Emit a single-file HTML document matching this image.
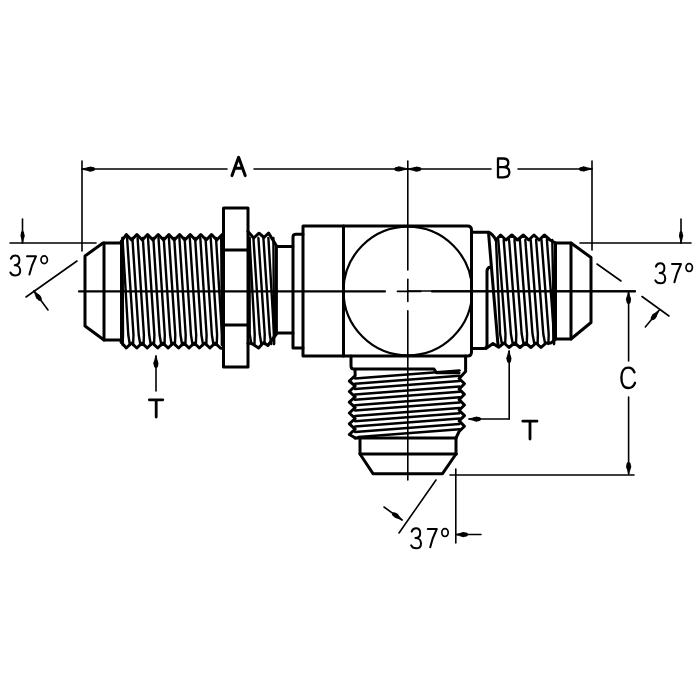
<!DOCTYPE html>
<html><head><meta charset="utf-8"><style>
html,body{margin:0;padding:0;background:#fff;}
svg{display:block;}
text{font-family:"Liberation Sans",sans-serif;fill:#000;}
</style></head><body>
<svg width="700" height="700" viewBox="0 0 700 700">
<g stroke="#000" fill="none" stroke-linecap="round" stroke-linejoin="round">
<line x1="82.0" y1="169.0" x2="227.0" y2="169.0" stroke-width="1.6"/>
<line x1="254.0" y1="169.0" x2="407.5" y2="169.0" stroke-width="1.6"/>
<ellipse cx="0" cy="0" rx="4" ry="2.30" transform="translate(91.0,169.0) rotate(180.0)" fill="#000" stroke="none"/>
<polygon points="82.0,169.0 91.0,167.0 91.0,171.0" fill="#000" stroke="#000" stroke-width="0.8"/>
<ellipse cx="0" cy="0" rx="4" ry="2.30" transform="translate(398.3,169.0) rotate(0.0)" fill="#000" stroke="none"/>
<polygon points="407.8,169.0 398.3,171.0 398.3,167.0" fill="#000" stroke="#000" stroke-width="0.8"/>
<line x1="407.5" y1="169.0" x2="491.0" y2="169.0" stroke-width="1.6"/>
<line x1="518.0" y1="169.0" x2="592.0" y2="169.0" stroke-width="1.6"/>
<ellipse cx="0" cy="0" rx="4" ry="2.30" transform="translate(417.3,169.0) rotate(180.0)" fill="#000" stroke="none"/>
<polygon points="407.8,169.0 417.3,167.0 417.3,171.0" fill="#000" stroke="#000" stroke-width="0.8"/>
<ellipse cx="0" cy="0" rx="4" ry="2.30" transform="translate(583.0,169.0) rotate(0.0)" fill="#000" stroke="none"/>
<polygon points="592.0,169.0 583.0,171.0 583.0,167.0" fill="#000" stroke="#000" stroke-width="0.8"/>
<line x1="82.0" y1="161.0" x2="82.0" y2="251.0" stroke-width="1.6"/>
<line x1="592.0" y1="161.0" x2="592.0" y2="250.0" stroke-width="1.6"/>
<line x1="10.0" y1="243.0" x2="96.0" y2="243.0" stroke-width="1.6"/>
<line x1="22.5" y1="219.0" x2="22.5" y2="243.0" stroke-width="1.6"/>
<ellipse cx="0" cy="0" rx="4" ry="1.80" transform="translate(22.5,235.0) rotate(90.0)" fill="#000" stroke="none"/>
<polygon points="22.5,243.0 21.0,235.0 24.0,235.0" fill="#000" stroke="#000" stroke-width="0.8"/>
<line x1="77.0" y1="261.0" x2="26.0" y2="297.0" stroke-width="1.6"/>
<line x1="34.0" y1="291.0" x2="48.0" y2="310.0" stroke-width="1.6"/>
<ellipse cx="0" cy="0" rx="4" ry="2.20" transform="translate(38.7,297.4) rotate(-126.4)" fill="#000" stroke="none"/>
<polygon points="34.0,291.0 40.3,296.3 37.2,298.5" fill="#000" stroke="#000" stroke-width="0.8"/>
<line x1="580.0" y1="243.0" x2="691.0" y2="243.0" stroke-width="1.6"/>
<line x1="681.0" y1="219.0" x2="681.0" y2="243.0" stroke-width="1.6"/>
<ellipse cx="0" cy="0" rx="4" ry="1.80" transform="translate(681.0,235.0) rotate(90.0)" fill="#000" stroke="none"/>
<polygon points="681.0,243.0 679.5,235.0 682.5,235.0" fill="#000" stroke="#000" stroke-width="0.8"/>
<line x1="597.0" y1="264.0" x2="621.0" y2="281.0" stroke-width="1.6"/>
<line x1="642.0" y1="296.5" x2="669.0" y2="316.0" stroke-width="1.6"/>
<line x1="645.3" y1="327.0" x2="659.0" y2="310.5" stroke-width="1.6"/>
<ellipse cx="0" cy="0" rx="4" ry="2.30" transform="translate(653.9,316.7) rotate(-50.3)" fill="#000" stroke="none"/>
<polygon points="659.0,310.5 655.4,317.9 652.4,315.4" fill="#000" stroke="#000" stroke-width="0.8"/>
<line x1="156.0" y1="356.0" x2="156.0" y2="391.0" stroke-width="1.6"/>
<ellipse cx="0" cy="0" rx="4" ry="2.30" transform="translate(156.0,364.0) rotate(-90.0)" fill="#000" stroke="none"/>
<polygon points="156.0,356.0 158.0,364.0 154.0,364.0" fill="#000" stroke="#000" stroke-width="0.8"/>
<line x1="509.2" y1="351.0" x2="509.2" y2="419.0" stroke-width="1.6"/>
<line x1="509.2" y1="419.0" x2="469.0" y2="419.0" stroke-width="1.6"/>
<ellipse cx="0" cy="0" rx="4" ry="2.30" transform="translate(509.0,359.0) rotate(-90.0)" fill="#000" stroke="none"/>
<polygon points="509.0,351.0 511.0,359.0 507.0,359.0" fill="#000" stroke="#000" stroke-width="0.8"/>
<ellipse cx="0" cy="0" rx="4" ry="2.30" transform="translate(477.0,419.0) rotate(180.0)" fill="#000" stroke="none"/>
<polygon points="469.0,419.0 477.0,417.0 477.0,421.0" fill="#000" stroke="#000" stroke-width="0.8"/>
<line x1="408.0" y1="291.0" x2="635.0" y2="291.0" stroke-width="1.6"/>
<line x1="628.6" y1="292.0" x2="628.6" y2="361.0" stroke-width="1.6"/>
<line x1="628.6" y1="397.0" x2="628.6" y2="474.0" stroke-width="1.6"/>
<ellipse cx="0" cy="0" rx="4" ry="2.30" transform="translate(628.6,300.0) rotate(-90.0)" fill="#000" stroke="none"/>
<polygon points="628.6,292.0 630.6,300.0 626.6,300.0" fill="#000" stroke="#000" stroke-width="0.8"/>
<ellipse cx="0" cy="0" rx="4" ry="2.30" transform="translate(628.6,466.0) rotate(90.0)" fill="#000" stroke="none"/>
<polygon points="628.6,474.0 626.6,466.0 630.6,466.0" fill="#000" stroke="#000" stroke-width="0.8"/>
<line x1="450.0" y1="475.0" x2="634.0" y2="475.0" stroke-width="1.6"/>
<line x1="436.0" y1="480.0" x2="399.0" y2="533.0" stroke-width="1.6"/>
<line x1="384.0" y1="507.0" x2="402.0" y2="520.0" stroke-width="1.6"/>
<ellipse cx="0" cy="0" rx="4" ry="2.20" transform="translate(395.5,515.3) rotate(35.8)" fill="#000" stroke="none"/>
<polygon points="402.0,520.0 394.4,516.8 396.6,513.8" fill="#000" stroke="#000" stroke-width="0.8"/>
<line x1="455.8" y1="469.0" x2="455.8" y2="543.0" stroke-width="1.6"/>
<line x1="481.0" y1="534.5" x2="456.0" y2="534.5" stroke-width="1.6"/>
<ellipse cx="0" cy="0" rx="4" ry="2.30" transform="translate(464.0,534.5) rotate(180.0)" fill="#000" stroke="none"/>
<polygon points="456.0,534.5 464.0,532.5 464.0,536.5" fill="#000" stroke="#000" stroke-width="0.8"/>
<line x1="79.0" y1="291.4" x2="385.0" y2="291.4" stroke-width="2.2"/>
<line x1="397.4" y1="291.4" x2="420.7" y2="291.4" stroke-width="1.6"/>
<line x1="432.0" y1="291.4" x2="635.0" y2="291.4" stroke-width="2.2"/>
<line x1="407.8" y1="161.0" x2="407.8" y2="270.0" stroke-width="1.6"/>
<line x1="407.8" y1="279.3" x2="407.8" y2="301.4" stroke-width="1.6"/>
<line x1="407.8" y1="310.7" x2="407.8" y2="480.0" stroke-width="1.6"/>
<polyline points="122.0,243.0 103.0,243.0 85.0,256.0 85.0,326.0 104.0,340.0 122.0,340.0" stroke-width="3.0"/>
<line x1="104.0" y1="243.0" x2="104.0" y2="340.0" stroke-width="3.0"/>
<polyline points="121.0,242.0 126.3,234.5 131.6,240.0 136.9,234.5 142.3,240.0 147.6,234.5 152.9,240.0 158.2,234.5 163.6,240.0 168.9,234.5 174.2,240.0 179.6,234.5 184.9,240.0 190.2,234.5 195.5,240.0 200.8,234.5 206.2,240.0 211.5,234.5 216.8,240.0 222.2,234.5 223.0,234.0" stroke-width="3.0"/>
<polyline points="121.0,342.0 126.3,348.0 131.5,343.0 136.8,348.0 142.0,343.0 147.2,348.0 152.4,343.0 157.7,348.0 162.9,343.0 168.1,348.0 173.3,343.0 178.6,348.0 183.8,343.0 189.0,348.0 194.2,343.0 199.4,348.0 204.7,343.0 209.9,348.0 215.1,343.0 220.3,348.0 223.0,348.6" stroke-width="3.0"/>
<line x1="121.5" y1="241.0" x2="121.5" y2="342.0" stroke-width="3.0"/>
<polyline points="122.5,238.0 123.0,335.0 122.7,345.0" stroke-width="2.4"/>
<polyline points="122.5,238.0 128.3,335.0 129.9,345.0" stroke-width="2.4"/>
<polyline points="127.1,238.0 133.5,335.0 133.1,345.0" stroke-width="2.4"/>
<polyline points="132.4,238.0 138.7,335.0 140.4,345.0" stroke-width="2.4"/>
<polyline points="137.6,238.0 143.9,335.0 143.6,345.0" stroke-width="2.4"/>
<polyline points="142.8,238.0 149.2,335.0 150.8,345.0" stroke-width="2.4"/>
<polyline points="148.0,238.0 154.4,335.0 154.0,345.0" stroke-width="2.4"/>
<polyline points="153.3,238.0 159.6,335.0 161.3,345.0" stroke-width="2.4"/>
<polyline points="158.5,238.0 164.8,335.0 164.5,345.0" stroke-width="2.4"/>
<polyline points="163.7,238.0 170.1,335.0 171.7,345.0" stroke-width="2.4"/>
<polyline points="168.9,238.0 175.3,335.0 174.9,345.0" stroke-width="2.4"/>
<polyline points="174.2,238.0 180.5,335.0 182.2,345.0" stroke-width="2.4"/>
<polyline points="179.4,238.0 185.7,335.0 185.4,345.0" stroke-width="2.4"/>
<polyline points="184.6,238.0 191.0,335.0 192.6,345.0" stroke-width="2.4"/>
<polyline points="189.8,238.0 196.2,335.0 195.8,345.0" stroke-width="2.4"/>
<polyline points="195.1,238.0 201.4,335.0 203.1,345.0" stroke-width="2.4"/>
<polyline points="200.3,238.0 206.6,335.0 206.3,345.0" stroke-width="2.4"/>
<polyline points="205.5,238.0 211.9,335.0 213.5,345.0" stroke-width="2.4"/>
<polyline points="210.7,238.0 217.1,335.0 216.7,345.0" stroke-width="2.4"/>
<polyline points="216.0,238.0 222.0,335.0 222.0,345.0" stroke-width="2.4"/>
<polyline points="221.2,238.0 222.0,335.0 222.0,345.0" stroke-width="2.4"/>
<rect x="223.5" y="208" width="24.5" height="159" stroke-width="3" fill="none"/>
<line x1="223.5" y1="250.0" x2="248.0" y2="250.0" stroke-width="3.0"/>
<line x1="223.5" y1="325.0" x2="248.0" y2="325.0" stroke-width="3.0"/>
<polyline points="248.0,231.5 253.7,238.0 259.0,233.2 264.0,237.5 268.6,233.0 276.4,245.7" stroke-width="3.0"/>
<polyline points="248.0,343.5 251.0,343.0 258.6,348.0 263.6,342.5 267.9,345.5 276.4,334.0" stroke-width="3.0"/>
<polyline points="249.5,238.0 249.7,334.0 251.3,344.0" stroke-width="2.4"/>
<polyline points="249.5,238.0 254.7,334.0 254.5,344.0" stroke-width="2.4"/>
<polyline points="253.4,238.0 259.7,334.0 261.3,344.0" stroke-width="2.4"/>
<polyline points="258.4,238.0 264.7,334.0 264.5,344.0" stroke-width="2.4"/>
<polyline points="263.4,238.0 269.7,334.0 271.3,344.0" stroke-width="2.4"/>
<polyline points="268.4,238.0 274.0,334.0 274.0,344.0" stroke-width="2.4"/>
<polyline points="273.4,238.0 274.0,334.0 274.0,344.0" stroke-width="2.4"/>
<polyline points="276.4,246.4 293.0,246.4 293.0,333.0 276.4,333.0" stroke-width="3.0"/>
<line x1="276.4" y1="246.0" x2="276.4" y2="333.0" stroke-width="3.0"/>
<path d="M293,246 V237 Q293,234.3 296,234.3 H303 M293,333 V348 H303" stroke-width="3" fill="none"/>
<path d="M303,356 V226 H467.5 Q471.5,226 471.5,230 V352 Q471.5,356 467.5,356 Z" stroke-width="3" fill="none"/>
<line x1="343.5" y1="226.0" x2="343.5" y2="356.0" stroke-width="3.0"/>
<circle cx="407.8" cy="291" r="64.3" stroke-width="2.2" fill="none"/>
<path d="M472,232.3 H488 Q492,233 496,240 M472,348.4 H484 Q487,348.4 487,345 V271 Q487.3,267.5 490.5,267" stroke-width="3" fill="none"/>
<polyline points="496.0,240.0 500.6,235.0 506.0,240.0 511.8,235.0 517.5,240.0 523.4,235.0 528.7,240.0 534.0,235.0 539.2,240.0 544.3,235.0 550.0,240.0 555.5,243.0" stroke-width="3.0"/>
<polyline points="486.0,348.4 493.0,343.5 498.7,347.2 504.0,343.0 509.0,347.5 514.5,343.0 520.0,347.5 525.5,343.0 531.0,347.5 536.0,343.0 541.0,347.5 546.0,343.0 551.0,343.0 555.5,339.0" stroke-width="3.0"/>
<line x1="488.5" y1="232.3" x2="498.0" y2="345.0" stroke-width="3.0"/>
<polyline points="496.0,240.0 500.1,334.0 502.0,344.0" stroke-width="2.4"/>
<polyline points="498.3,240.0 505.5,334.0 505.2,344.0" stroke-width="2.4"/>
<polyline points="503.7,240.0 510.9,334.0 512.8,344.0" stroke-width="2.4"/>
<polyline points="509.1,240.0 516.3,334.0 516.0,344.0" stroke-width="2.4"/>
<polyline points="514.5,240.0 521.7,334.0 523.6,344.0" stroke-width="2.4"/>
<polyline points="519.9,240.0 527.1,334.0 526.8,344.0" stroke-width="2.4"/>
<polyline points="525.3,240.0 532.5,334.0 534.4,344.0" stroke-width="2.4"/>
<polyline points="530.7,240.0 537.9,334.0 537.6,344.0" stroke-width="2.4"/>
<polyline points="536.1,240.0 543.3,334.0 545.2,344.0" stroke-width="2.4"/>
<polyline points="541.5,240.0 548.7,334.0 548.4,344.0" stroke-width="2.4"/>
<polyline points="546.9,240.0 554.0,334.0 554.0,344.0" stroke-width="2.4"/>
<polyline points="552.3,240.0 554.0,334.0 554.0,344.0" stroke-width="2.4"/>
<line x1="553.0" y1="290.0" x2="554.0" y2="340.0" stroke-width="3.5"/>
<line x1="555.5" y1="243.0" x2="555.5" y2="339.0" stroke-width="3.0"/>
<polyline points="555.5,243.0 571.0,243.0 591.0,257.5 591.0,322.5 571.0,339.0 555.5,339.0" stroke-width="3.0"/>
<line x1="571.0" y1="243.0" x2="571.0" y2="339.0" stroke-width="3.0"/>
<path d="M351,356 V366 Q351,369 354,369 H434 L436.5,372.8 H459" stroke-width="3" fill="none"/>
<polyline points="355.0,370.5 355.2,375.7 349.3,381.0 355.2,386.2 349.3,391.5 355.2,396.9 349.3,402.2 355.2,407.7 349.3,413.0 355.2,418.5 349.3,423.8 355.2,429.2 349.3,434.5 355.5,438.0" stroke-width="3.0"/>
<polyline points="465.6,356.0 465.6,371.5 459.1,378.5 464.5,383.8 459.1,389.1 464.5,394.3 459.1,399.6 464.5,405.0 459.1,410.3 464.5,415.6 459.1,420.9 464.5,426.2 459.1,431.5 456.0,438.0" stroke-width="3.0"/>
<line x1="355.0" y1="378.4" x2="459.5" y2="370.4" stroke-width="2.5"/>
<line x1="355.0" y1="383.8" x2="459.5" y2="375.8" stroke-width="2.5"/>
<line x1="355.0" y1="389.1" x2="459.5" y2="381.1" stroke-width="2.5"/>
<line x1="355.0" y1="394.5" x2="459.5" y2="386.5" stroke-width="2.5"/>
<line x1="355.0" y1="399.8" x2="459.5" y2="391.8" stroke-width="2.5"/>
<line x1="355.0" y1="405.2" x2="459.5" y2="397.2" stroke-width="2.5"/>
<line x1="355.0" y1="410.5" x2="459.5" y2="402.5" stroke-width="2.5"/>
<line x1="355.0" y1="415.9" x2="459.5" y2="407.9" stroke-width="2.5"/>
<line x1="355.0" y1="421.2" x2="459.5" y2="413.2" stroke-width="2.5"/>
<line x1="355.0" y1="426.6" x2="459.5" y2="418.6" stroke-width="2.5"/>
<line x1="355.0" y1="431.9" x2="459.5" y2="423.9" stroke-width="2.5"/>
<line x1="358.3" y1="437.0" x2="459.5" y2="429.3" stroke-width="2.5"/>
<line x1="355.0" y1="438.0" x2="456.0" y2="438.0" stroke-width="3.0"/>
<polyline points="360.0,438.9 360.0,454.0 373.0,473.7 442.5,473.7 456.0,454.0 456.0,438.9" stroke-width="3.0"/>
<line x1="360.0" y1="454.0" x2="456.4" y2="454.0" stroke-width="3.0"/>
</g>
<g stroke="#000" fill="none" stroke-linecap="round" stroke-linejoin="round">
<path d="M10.88,258.80 C11.73,256.10 13.43,255.40 15.13,255.40 C17.68,255.40 19.38,257.20 19.38,260.10 C19.38,263.20 17.42,265.20 14.70,265.20 C18.11,265.20 20.23,267.80 20.23,270.60 C20.23,273.60 18.19,275.50 15.30,275.50 C12.92,275.50 11.22,274.40 10.37,272.50" stroke-width="2.0" fill="none"/>
<path d="M27.00,256.20 H36.00 C33.50,261.20 31.00,267.20 29.40,274.50" stroke-width="2.0" fill="none"/>
<ellipse cx="44.2" cy="259.8" rx="3.2" ry="3.9" stroke-width="1.7" fill="none"/>
<path d="M655.88,266.60 C656.73,263.90 658.43,263.20 660.13,263.20 C662.68,263.20 664.38,265.00 664.38,267.90 C664.38,271.00 662.43,273.00 659.71,273.00 C663.11,273.00 665.23,275.60 665.23,278.40 C665.23,281.40 663.19,283.30 660.30,283.30 C657.92,283.30 656.22,282.20 655.37,280.30" stroke-width="2.0" fill="none"/>
<path d="M672.00,264.00 H681.00 C678.50,269.00 676.00,275.00 674.40,282.30" stroke-width="2.0" fill="none"/>
<ellipse cx="689.2" cy="267.6" rx="3.2" ry="3.9" stroke-width="1.7" fill="none"/>
<path d="M411.68,531.60 C412.53,528.90 414.23,528.20 415.93,528.20 C418.48,528.20 420.18,530.00 420.18,532.90 C420.18,536.00 418.23,538.00 415.50,538.00 C418.90,538.00 421.03,540.60 421.03,543.40 C421.03,546.40 418.99,548.30 416.10,548.30 C413.72,548.30 412.02,547.20 411.17,545.30" stroke-width="2.0" fill="none"/>
<path d="M427.80,529.00 H436.80 C434.30,534.00 431.80,540.00 430.20,547.30" stroke-width="2.0" fill="none"/>
<ellipse cx="445" cy="532.6" rx="3.2" ry="3.9" stroke-width="1.7" fill="none"/>
<path d="M232,175.6 L238.6,157.3 L245.2,175.6 M234.6,168.2 H242.6" stroke-width="3.0" fill="none"/>
<path d="M498,158.5 V177.3 M498,158.5 H503.2 C506.8,158.5 508.3,160.4 508.3,162.7 C508.3,165.2 506.4,167.1 503,167.1 H498 M503,167.1 C507.3,167.1 509.4,169.4 509.4,172.3 C509.4,175.4 507,177.3 503,177.3 H498" stroke-width="2.3" fill="none"/>
<path d="M634.4,372.3 C633.3,369.4 631.1,367.6 628.2,367.6 C623.9,367.6 621.4,371.8 621.4,377.8 C621.4,384 624,388 628.3,388 C631.3,388 633.8,386 635,382.8" stroke-width="2.4" fill="none"/>
<path d="M149.3,399.8 H162.8 M156.2,399.8 V417" stroke-width="2.8" fill="none"/>
<path d="M522.8,421.2 H537 M530,421.2 V439" stroke-width="2.8" fill="none"/>
</g>
</svg></body></html>
